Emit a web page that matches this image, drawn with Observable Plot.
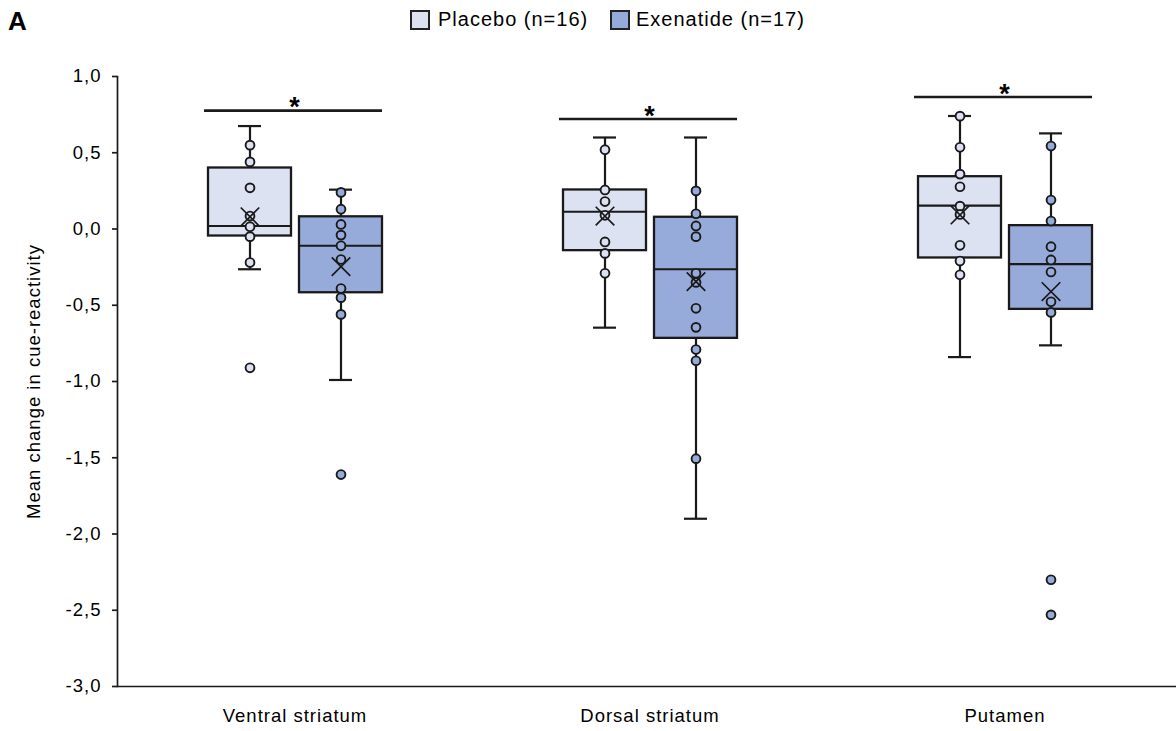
<!DOCTYPE html>
<html>
<head>
<meta charset="utf-8">
<script src="https://cdn.jsdelivr.net/npm/d3@7"></script>
<script src="https://cdn.jsdelivr.net/npm/@observablehq/plot@0.6"></script>
<style>
  body { margin: 0; background: #fff; font-family: "Liberation Sans", Arial, sans-serif; color: #000; }
  #wrap { position: relative; width: 1176px; height: 731px; overflow: hidden; }
  #chart { position: absolute; left: 0; top: 0; }
  #chart svg text { letter-spacing: 1px; }
  .panel { position: absolute; left: 8px; top: 6px; font-weight: bold; font-size: 26px; }
  .sw { position: absolute; top: 10px; width: 16px; height: 16px; border: 2px solid #222; }
  .lt { position: absolute; top: 8px; font-size: 20px; letter-spacing: 1px; white-space: nowrap; }
</style>
</head>
<body>
<div id="wrap">
  <div id="chart"></div>
  <div class="panel">A</div>
  <div class="sw" style="left:410px;background:#dce2f2"></div>
  <div class="lt" style="left:438px">Placebo (n=16)</div>
  <div class="sw" style="left:610px;background:#97abdb"></div>
  <div class="lt" style="left:636px">Exenatide (n=17)</div>
</div>
<script>
// ---- Data ----
const regions = ["Ventral striatum", "Dorsal striatum", "Putamen"];
const groups = ["Placebo", "Exenatide"];
const groupColors = ["#dce2f2", "#97abdb"];

// box statistics per region (Ventral, Dorsal, Putamen)
const placeboWhiskerLow  = [-0.264, -0.647, -0.84];
const placeboQ1          = [-0.046, -0.142, -0.19];
const placeboMedian      = [0.02, 0.113, 0.153];
const placeboQ3          = [0.40, 0.256, 0.343];
const placeboWhiskerHigh = [0.675, 0.60, 0.741];
const placeboMean        = [0.08, 0.085, 0.092];

const exenatideWhiskerLow  = [-0.99, -1.90, -0.763];
const exenatideQ1          = [-0.418, -0.717, -0.527];
const exenatideMedian      = [-0.11, -0.264, -0.23];
const exenatideQ3          = [0.08, 0.077, 0.022];
const exenatideWhiskerHigh = [0.258, 0.60, 0.627];
const exenatideMean        = [-0.247, -0.345, -0.41];

// individual points visible per region
const placeboPoints = [
  [0.55, 0.44, 0.27, 0.085, 0.015, -0.05, -0.22, -0.91],
  [0.52, 0.256, 0.18, 0.09, -0.085, -0.16, -0.29],
  [0.74, 0.536, 0.36, 0.277, 0.15, 0.095, -0.107, -0.21, -0.30]
];
const exenatidePoints = [
  [0.24, 0.13, 0.03, -0.04, -0.11, -0.20, -0.39, -0.45, -0.56, -1.61],
  [0.25, 0.10, 0.02, -0.05, -0.29, -0.35, -0.52, -0.645, -0.79, -0.864, -1.506],
  [0.544, 0.19, 0.052, -0.116, -0.203, -0.282, -0.477, -0.547, -2.30, -2.53]
];

// significance bars (level in data units)
const sigLevel = [0.776, 0.721, 0.866];
const sigLabel = ["*", "*", "*"];

const yTicks = [-3, -2.5, -2, -1.5, -1, -0.5, 0, 0.5, 1];
const yLabel = "Mean change in cue-reactivity";

// ---- Build tables ----
const boxes = regions.flatMap((region, i) => [
  {region, group: "Placebo", lo: placeboWhiskerLow[i], q1: placeboQ1[i], median: placeboMedian[i], q3: placeboQ3[i], hi: placeboWhiskerHigh[i], mean: placeboMean[i]},
  {region, group: "Exenatide", lo: exenatideWhiskerLow[i], q1: exenatideQ1[i], median: exenatideMedian[i], q3: exenatideQ3[i], hi: exenatideWhiskerHigh[i], mean: exenatideMean[i]}
]);
const points = regions.flatMap((region, i) => [
  ...placeboPoints[i].map(value => ({region, group: "Placebo", value})),
  ...exenatidePoints[i].map(value => ({region, group: "Exenatide", value}))
]);
const sig = regions.map((region, i) => ({region, level: sigLevel[i], label: sigLabel[i]}));

const ink = "#1a1a1a";

const chart = Plot.plot({
  width: 1176,
  height: 731,
  marginLeft: 117,
  marginRight: -6,
  marginTop: 76,
  marginBottom: 45,
  style: {fontFamily: "'Liberation Sans', Arial, sans-serif", fontSize: "18px", color: "#000", background: "transparent", overflow: "visible"},
  fx: {domain: regions, padding: 0, label: null},
  x: {domain: groups, paddingInner: 0.09, paddingOuter: 0.98, axis: null},
  y: {domain: [-3, 1], label: null},
  color: {domain: groups, range: groupColors},
  marks: [
    Plot.ruleY([-3], {stroke: ink, strokeWidth: 1.7}),
    Plot.frame({anchor: "left", facetAnchor: "left", stroke: ink, strokeWidth: 1.7}),
    Plot.axisY({
      ticks: yTicks,
      tickFormat: d => d.toFixed(1).replace(".", ","),
      tickSize: 5,
      tickPadding: 11,
      stroke: ink,
      strokeWidth: 1.7,
      fill: "#000",
      fontSize: 18.5,
      label: yLabel,
      labelAnchor: "center",
      labelArrow: "none",
      labelOffset: 91
    }),
    Plot.axisFx({anchor: "bottom", tickSize: 0, tickPadding: 22, label: null, fontSize: 18.5, fill: "#000"}),
    // whisker stems
    Plot.ruleX(boxes, {fx: "region", x: "group", y1: "lo", y2: "hi", stroke: ink, strokeWidth: 2.2}),
    // whisker caps
    Plot.tickY(boxes, {fx: "region", x: "group", y: "lo", insetLeft: 30, insetRight: 30, stroke: ink, strokeWidth: 2.2}),
    Plot.tickY(boxes, {fx: "region", x: "group", y: "hi", insetLeft: 30, insetRight: 30, stroke: ink, strokeWidth: 2.2}),
    // boxes
    Plot.barY(boxes, {fx: "region", x: "group", y1: "q1", y2: "q3", fill: "group", stroke: ink, strokeWidth: 2.3}),
    // medians
    Plot.tickY(boxes, {fx: "region", x: "group", y: "median", stroke: ink, strokeWidth: 2.1}),
    // points
    Plot.dot(points, {fx: "region", x: "group", y: "value", fill: "group", stroke: ink, strokeWidth: 1.9, r: 4.4}),
    // means
    Plot.dot(boxes, {fx: "region", x: "group", y: "mean", symbol: "times", r: 8.5, stroke: ink, strokeWidth: 1.7}),
    // significance bars
    Plot.ruleY(sig, {fx: "region", y: "level", insetLeft: 87, insetRight: 90, stroke: ink, strokeWidth: 2.6}),
    Plot.text(sig, {fx: "region", y: "level", text: "label", dy: -3, fontSize: 27, fontWeight: "bold", fill: "#000"})
  ]
});
document.getElementById("chart").appendChild(chart);
</script>
</body>
</html>
